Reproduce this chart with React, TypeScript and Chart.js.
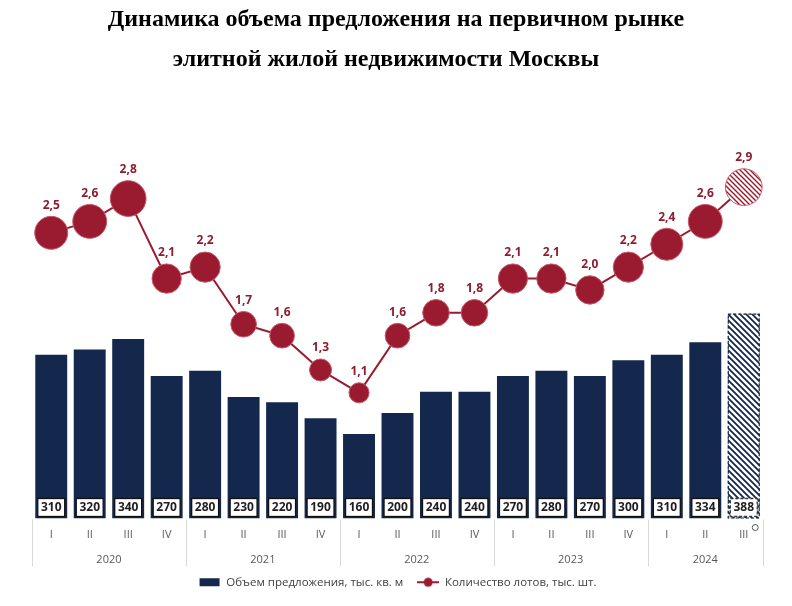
import React, { useEffect, useRef } from "react";
import { Chart, registerables } from "chart.js";

Chart.register(...registerables);

const quarters = ["I", "II", "III", "IV", "I", "II", "III", "IV", "I", "II", "III", "IV", "I", "II", "III", "IV", "I", "II", "III"];
const years = ["2020", "2021", "2022", "2023", "2024"];
const yearSpans = [4, 4, 4, 4, 3];
const supplyValues = [310, 320, 340, 270, 280, 230, 220, 190, 160, 200, 240, 240, 270, 280, 270, 300, 310, 334, 388];
const lotsValues = [2.5, 2.6, 2.8, 2.1, 2.2, 1.7, 1.6, 1.3, 1.1, 1.6, 1.8, 1.8, 2.1, 2.1, 2.0, 2.2, 2.4, 2.6, 2.9];
const forecastIndex = 18;
const titleLines = ["Динамика объема предложения на первичном рынке", "элитной жилой недвижимости Москвы"];
const seriesNames = ["Объем предложения, тыс. кв. м", "Количество лотов, тыс. шт."];

const NAVY = "#13284c";
const RED = "#9a1b2f";
const RED_EDGE = "#c45a68";

function makeHatch(color: string, size = 6, lw = 1.8): CanvasPattern | string {
  const c = document.createElement("canvas");
  c.width = size;
  c.height = size;
  const g = c.getContext("2d");
  if (!g) return color;
  g.fillStyle = "#ffffff";
  g.fillRect(0, 0, size, size);
  g.strokeStyle = color;
  g.lineWidth = lw;
  g.beginPath();
  g.moveTo(-1, -1);
  g.lineTo(size + 1, size + 1);
  g.moveTo(-1, size - 1);
  g.lineTo(1, size + 1);
  g.moveTo(size - 1, -1);
  g.lineTo(size + 1, 1);
  g.stroke();
  const p = g.createPattern(c, "repeat");
  return p || color;
}

function legendIcon(kind: "bar" | "line"): HTMLCanvasElement {
  const c = document.createElement("canvas");
  c.width = 22;
  c.height = 12;
  const g = c.getContext("2d")!;
  if (kind === "bar") {
    g.fillStyle = NAVY;
    g.fillRect(1, 2, 20, 8);
  } else {
    g.strokeStyle = RED;
    g.lineWidth = 2;
    g.beginPath();
    g.moveTo(0, 6);
    g.lineTo(22, 6);
    g.stroke();
    g.fillStyle = RED;
    g.beginPath();
    g.arc(11, 6, 4.5, 0, Math.PI * 2);
    g.fill();
  }
  return c;
}

const radiusFor = (v: number) => 5 + 4.6 * v;

export default function App() {
  const ref = useRef<HTMLCanvasElement | null>(null);

  useEffect(() => {
    if (!ref.current) return;
    const barHatch = makeHatch(NAVY, 6, 1.8);
    const dotHatch = makeHatch(RED, 5, 1.4);
    const barIcon = legendIcon("bar");
    const lineIcon = legendIcon("line");

    const overlay = {
      id: "overlay",
      afterDatasetsDraw(chart: any) {
        const ctx = chart.ctx;
        const barMeta = chart.getDatasetMeta(1);
        const lineMeta = chart.getDatasetMeta(0);
        ctx.save();
        barMeta.data.forEach((bar: any, i: number) => {
          const left = bar.x - bar.width / 2;
          const base = bar.base;
          if (i === forecastIndex) {
            ctx.save();
            ctx.strokeStyle = NAVY;
            ctx.lineWidth = 1.2;
            ctx.setLineDash([3, 2]);
            ctx.strokeRect(left + 0.5, bar.y + 0.5, bar.width - 1, base - bar.y - 1);
            ctx.restore();
          }
          const bx = left + 2.5;
          const bw = bar.width - 5;
          const by = base - 20;
          const bh = 18;
          ctx.fillStyle = "#ffffff";
          ctx.fillRect(bx, by, bw, bh);
          ctx.save();
          ctx.strokeStyle = i === forecastIndex ? "#333333" : "#111111";
          ctx.lineWidth = 1.3;
          if (i === forecastIndex) ctx.setLineDash([3, 2]);
          ctx.strokeRect(bx, by, bw, bh);
          ctx.restore();
          ctx.fillStyle = "#1e1e1e";
          ctx.font = 'bold 12px "Open Sans", "Noto Sans", sans-serif';
          ctx.textAlign = "center";
          ctx.textBaseline = "middle";
          ctx.fillText(String(supplyValues[i]), bar.x, by + bh / 2 + 0.5);
        });
        lineMeta.data.forEach((pt: any, i: number) => {
          const r = radiusFor(lotsValues[i]);
          ctx.fillStyle = "#8c1d2e";
          ctx.font = 'bold 12px "Open Sans", "Noto Sans", sans-serif';
          ctx.textAlign = "center";
          ctx.textBaseline = "middle";
          ctx.fillText(lotsValues[i].toFixed(1).replace(".", ","), pt.x, pt.y - r - 11);
        });
        ctx.restore();
      },
      afterDraw(chart: any) {
        const ctx = chart.ctx;
        const xs = chart.scales.x;
        const area = chart.chartArea;
        ctx.save();
        ctx.fillStyle = "#000000";
        ctx.font = 'bold 24px "Liberation Serif", "DejaVu Serif", serif';
        ctx.textAlign = "center";
        ctx.textBaseline = "middle";
        ctx.fillText(titleLines[0], chart.width / 2, 20);
        ctx.fillText(titleLines[1], chart.width / 2 - 10, 60);
        const step = xs.getPixelForValue(1) - xs.getPixelForValue(0);
        let start = 0;
        ctx.strokeStyle = "#d9d9d9";
        ctx.lineWidth = 1;
        const edges: number[] = [start];
        yearSpans.forEach((s) => {
          start += s;
          edges.push(start);
        });
        edges.forEach((e) => {
          const x = Math.round(xs.getPixelForValue(e) - step / 2) + 0.5;
          ctx.beginPath();
          ctx.moveTo(x, area.bottom + 1);
          ctx.lineTo(x, area.bottom + 48);
          ctx.stroke();
        });
        ctx.fillStyle = "#595959";
        ctx.font = '11px "Open Sans", "Noto Sans", sans-serif';
        years.forEach((y, k) => {
          const a = xs.getPixelForValue(edges[k]) - step / 2;
          const b = xs.getPixelForValue(edges[k + 1]) - step / 2;
          ctx.fillText(y, (a + b) / 2, area.bottom + 41);
        });
        const last = chart.getDatasetMeta(1).data[forecastIndex];
        ctx.strokeStyle = "#555555";
        ctx.lineWidth = 1;
        ctx.beginPath();
        ctx.arc(last.x + 11.5, last.base + 9, 3, 0, Math.PI * 2);
        ctx.stroke();
        ctx.restore();
      },
    };

    const chart = new Chart(ref.current, {
      type: "bar",
      data: {
        labels: quarters,
        datasets: [
          {
            type: "line",
            label: seriesNames[1],
            data: lotsValues,
            yAxisID: "y2",
            order: 0,
            borderColor: RED,
            borderWidth: 2,
            pointRadius: (c: any) => radiusFor(lotsValues[c.dataIndex]),
            pointHoverRadius: (c: any) => radiusFor(lotsValues[c.dataIndex]),
            pointBackgroundColor: (c: any) => (c.dataIndex === forecastIndex ? dotHatch : RED),
            pointBorderColor: RED_EDGE,
            pointBorderWidth: 1,
            clip: false,
            tension: 0,
          } as any,
          {
            type: "bar",
            label: seriesNames[0],
            data: supplyValues,
            yAxisID: "y",
            order: 1,
            backgroundColor: (c: any) => (c.dataIndex === forecastIndex ? barHatch : NAVY),
            borderWidth: 0,
            categoryPercentage: 1,
            barPercentage: 0.83,
          } as any,
        ],
      },
      options: {
        animation: false,
        responsive: false,
        maintainAspectRatio: false,
        layout: { padding: { left: 32, right: 29, top: 130, bottom: 8 } },
        scales: {
          x: {
            grid: { display: false },
            border: { display: false },
            ticks: {
              color: "#595959",
              font: { family: '"Open Sans", "Noto Sans", sans-serif', size: 11 },
              padding: 2,
              maxRotation: 0,
              autoSkip: false,
            },
            afterFit: (s: any) => {
              s.height = 44;
            },
          },
          y: { display: false, min: 0, max: 736 },
          y2: { display: false, min: 0, max: 3.4, position: "right" },
        },
        plugins: {
          title: { display: false },
          tooltip: { enabled: false },
          legend: {
            position: "bottom",
            labels: {
              usePointStyle: true,
              pointStyleWidth: 22,
              boxHeight: 12,
              padding: 14,
              color: "#404040",
              font: { family: '"Open Sans", "Noto Sans", sans-serif', size: 11.5 },
              generateLabels: () => [
                { text: seriesNames[0], pointStyle: barIcon, fillStyle: NAVY, strokeStyle: NAVY, lineWidth: 0, datasetIndex: 1, hidden: false, fontColor: "#404040" },
                { text: seriesNames[1], pointStyle: lineIcon, fillStyle: RED, strokeStyle: RED, lineWidth: 0, datasetIndex: 0, hidden: false, fontColor: "#404040" },
              ],
            },
          },
        },
      },
      plugins: [overlay],
    } as any);

    return () => chart.destroy();
  }, []);

  return (
    <div style={{ position: "fixed", left: 0, top: 0, width: 792, height: 606, background: "#fff" }}>
      <canvas ref={ref} width={792} height={606} style={{ width: 792, height: 606, display: "block" }} />
    </div>
  );
}
